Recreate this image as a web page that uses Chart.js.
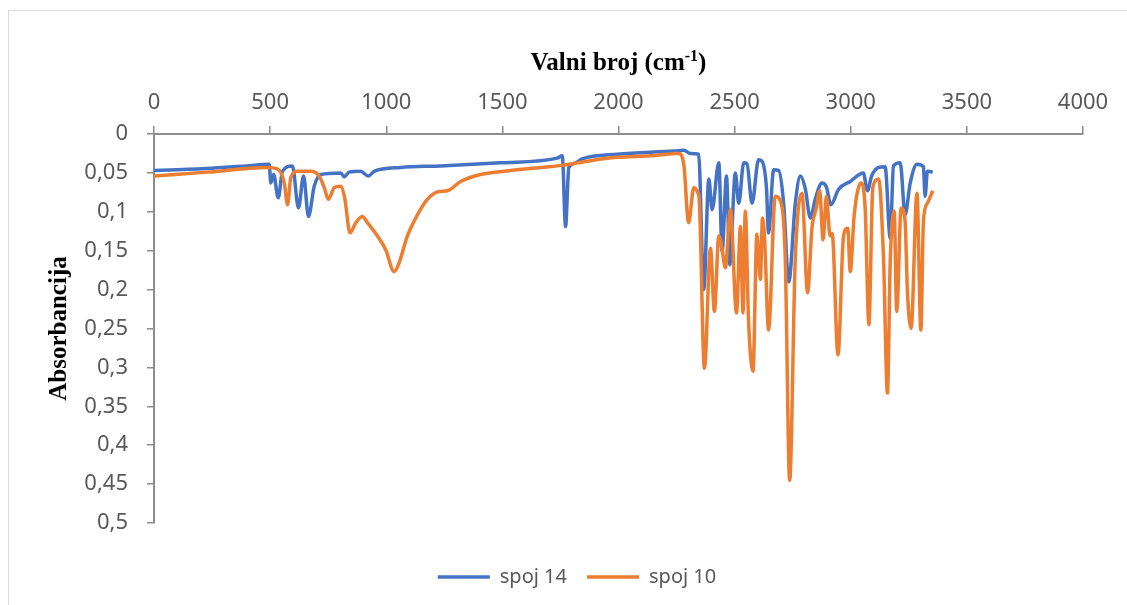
<!DOCTYPE html>
<html>
<head>
<meta charset="utf-8">
<script src="https://cdn.jsdelivr.net/npm/chart.js@4/dist/chart.umd.min.js"></script>
<style>
  body { margin: 0; background: #fff; }
  #wrap { position: relative; width: 1127px; height: 605px; overflow: hidden; }
  #frame { position: absolute; left: 8px; top: 10px; width: 1130px; height: 610px; border: 1px solid #d9d9d9; }
  canvas { position: absolute; left: 0; top: 0; }
</style>
</head>
<body>
<div id="wrap">
  <div id="frame"></div>
  <canvas id="chart" width="1127" height="605"></canvas>
</div>
<script>
// valni broj (cm-1) i absorbancija, očitano sa slike
const spoj14X = [0, 100, 250, 400, 496, 503, 515, 535, 553, 596, 622, 644, 665, 690, 718, 804, 819, 840, 890, 923, 948,
  1062, 1234, 1492, 1736, 1758, 1772, 1786, 1808, 1844, 1994, 2238, 2281, 2310, 2345, 2367, 2389, 2403, 2432, 2446,
  2465, 2479, 2503, 2518, 2539, 2553, 2575, 2603, 2618, 2637, 2646, 2668, 2690, 2711, 2733, 2761, 2783, 2804, 2826,
  2847, 2876, 2895, 2914, 2948, 2998, 3054, 3072, 3090, 3120, 3148, 3170, 3184, 3213, 3234, 3256, 3285, 3313, 3320,
  3330, 3353];
const spoj14Y = [0.047, 0.046, 0.044, 0.041, 0.039, 0.063, 0.052, 0.082, 0.048, 0.041, 0.095, 0.054, 0.106, 0.067, 0.052,
  0.05, 0.055, 0.049, 0.048, 0.054, 0.048, 0.043, 0.041, 0.037, 0.031, 0.028, 0.119, 0.043, 0.038, 0.032, 0.026, 0.022,
  0.021, 0.025, 0.026, 0.2, 0.058, 0.097, 0.037, 0.151, 0.054, 0.168, 0.05, 0.089, 0.037, 0.038, 0.089, 0.033, 0.035,
  0.069, 0.127, 0.046, 0.047, 0.089, 0.19, 0.09, 0.054, 0.07, 0.108, 0.084, 0.063, 0.068, 0.091, 0.071, 0.061, 0.05,
  0.073, 0.054, 0.043, 0.042, 0.134, 0.041, 0.037, 0.104, 0.063, 0.039, 0.042, 0.08, 0.048, 0.049];

const spoj10X = [0, 231, 489, 532, 561, 575, 589, 618, 675, 711, 733, 751, 776, 804, 821, 844, 869, 897, 919, 962, 998,
  1034, 1055, 1091, 1134, 1177, 1227, 1263, 1320, 1406, 1535, 1665, 1765, 1865, 1994, 2138, 2259, 2281, 2302, 2324,
  2341, 2348, 2370, 2396, 2413, 2432, 2446, 2460, 2482, 2508, 2525, 2536, 2546, 2560, 2579, 2596, 2611, 2620, 2629,
  2646, 2675, 2697, 2718, 2737, 2761, 2790, 2814, 2833, 2852, 2866, 2881, 2895, 2911, 2920, 2945, 2969, 2987, 2998,
  3015, 3044, 3062, 3078, 3095, 3120, 3141, 3158, 3170, 3187, 3198, 3217, 3234, 3244, 3260, 3285, 3302, 3313, 3330,
  3353];
const spoj10Y = [0.054, 0.049, 0.043, 0.045, 0.063, 0.091, 0.056, 0.048, 0.048, 0.054, 0.069, 0.084, 0.069, 0.067, 0.082,
  0.127, 0.114, 0.106, 0.114, 0.131, 0.149, 0.177, 0.166, 0.131, 0.104, 0.084, 0.074, 0.073, 0.061, 0.052, 0.047, 0.043,
  0.04, 0.035, 0.03, 0.028, 0.025, 0.039, 0.114, 0.069, 0.075, 0.086, 0.301, 0.147, 0.228, 0.131, 0.148, 0.172, 0.097,
  0.23, 0.119, 0.23, 0.099, 0.241, 0.305, 0.129, 0.187, 0.108, 0.134, 0.252, 0.08, 0.086, 0.16, 0.445, 0.162, 0.076,
  0.204, 0.121, 0.095, 0.073, 0.136, 0.08, 0.131, 0.128, 0.284, 0.131, 0.121, 0.177, 0.104, 0.063, 0.095, 0.245, 0.069,
  0.058, 0.159, 0.333, 0.164, 0.099, 0.228, 0.095, 0.112, 0.202, 0.25, 0.076, 0.252, 0.112, 0.089, 0.073];

const seriesNames = ["spoj 14", "spoj 10"];
const xTitle = "Valni broj (cm";
const xTitleSup = "-1";
const yTitle = "Absorbancija";

const toPoints = (xs, ys) => xs.map((x, i) => ({ x: x, y: ys[i] }));

const tickFont = { family: "'Noto Sans', sans-serif", size: 22 };
const axisGray = "#8c8c8c";

// naslovi osi (s eksponentom)
const axisTitles = {
  id: "axisTitles",
  afterDraw(chart) {
    const { ctx, chartArea } = chart;
    ctx.save();
    ctx.fillStyle = "#000";
    const bigFont = "bold 25px 'Liberation Serif', 'Times New Roman', serif";
    const smallFont = "bold 16px 'Liberation Serif', 'Times New Roman', serif";
    ctx.font = bigFont;
    const w1 = ctx.measureText(xTitle).width;
    const w3 = ctx.measureText(")").width;
    ctx.font = smallFont;
    const w2 = ctx.measureText(xTitleSup).width;
    let x = (chartArea.left + chartArea.right) / 2 - (w1 + w2 + w3) / 2;
    const base = 70;
    ctx.textBaseline = "alphabetic";
    ctx.textAlign = "left";
    ctx.font = bigFont;
    ctx.fillText(xTitle, x, base);
    x += w1;
    ctx.font = smallFont;
    ctx.fillText(xTitleSup, x, base - 9);
    x += w2;
    ctx.font = bigFont;
    ctx.fillText(")", x, base);

    ctx.translate(66, (chartArea.top + chartArea.bottom) / 2);
    ctx.rotate(-Math.PI / 2);
    ctx.textAlign = "center";
    ctx.fillText(yTitle, 0, 0);
    ctx.restore();
  },
};

const chart = new Chart(document.getElementById("chart"), {
  type: "line",
  data: {
    datasets: [
      {
        label: seriesNames[0],
        data: toPoints(spoj14X, spoj14Y),
        borderColor: "#4472c4",
        backgroundColor: "#4472c4",
        borderWidth: 3.5,
        order: 1,
      },
      {
        label: seriesNames[1],
        data: toPoints(spoj10X, spoj10Y),
        borderColor: "#ed7d31",
        backgroundColor: "#ed7d31",
        borderWidth: 3.5,
        order: 0,
      },
    ],
  },
  options: {
    responsive: false,
    animation: false,
    elements: {
      point: { radius: 0 },
      line: { cubicInterpolationMode: "monotone" },
    },
    layout: { padding: { left: 71, right: 44, top: 0, bottom: 8 } },
    scales: {
      x: {
        type: "linear",
        position: "top",
        min: 0,
        max: 4000,
        ticks: {
          stepSize: 500,
          font: tickFont,
          color: "#595959",
          padding: 10,
          maxRotation: 0,
          callback: (v) => String(v),
        },
        grid: { drawOnChartArea: false, drawTicks: true, tickLength: 8, color: axisGray, lineWidth: 1.5 },
        border: { color: axisGray, width: 2 },
        afterFit: (scale) => {
          scale.height = 134;
        },
      },
      y: {
        type: "linear",
        reverse: true,
        min: 0,
        max: 0.5,
        ticks: {
          stepSize: 0.05,
          font: tickFont,
          color: "#595959",
          padding: 19,
          callback: (v) => String(Number(v.toFixed(2))).replace(".", ","),
        },
        grid: { drawOnChartArea: false, drawTicks: true, tickLength: 7, color: axisGray, lineWidth: 1.5 },
        border: { color: axisGray, width: 2 },
        afterFit: (scale) => {
          scale.width = 83;
        },
      },
    },
    plugins: {
      tooltip: { enabled: false },
      legend: {
        position: "bottom",
        title: { display: true, text: " ", font: { size: 10 }, padding: 6 },
        labels: {
          usePointStyle: true,
          pointStyle: "line",
          pointStyleWidth: 52,
          font: { family: "'Noto Sans', sans-serif", size: 20 },
          color: "#595959",
          padding: 20,
          sort: (a, b) => a.datasetIndex - b.datasetIndex,
        },
      },
    },
  },
  plugins: [axisTitles],
});
</script>
</body>
</html>
